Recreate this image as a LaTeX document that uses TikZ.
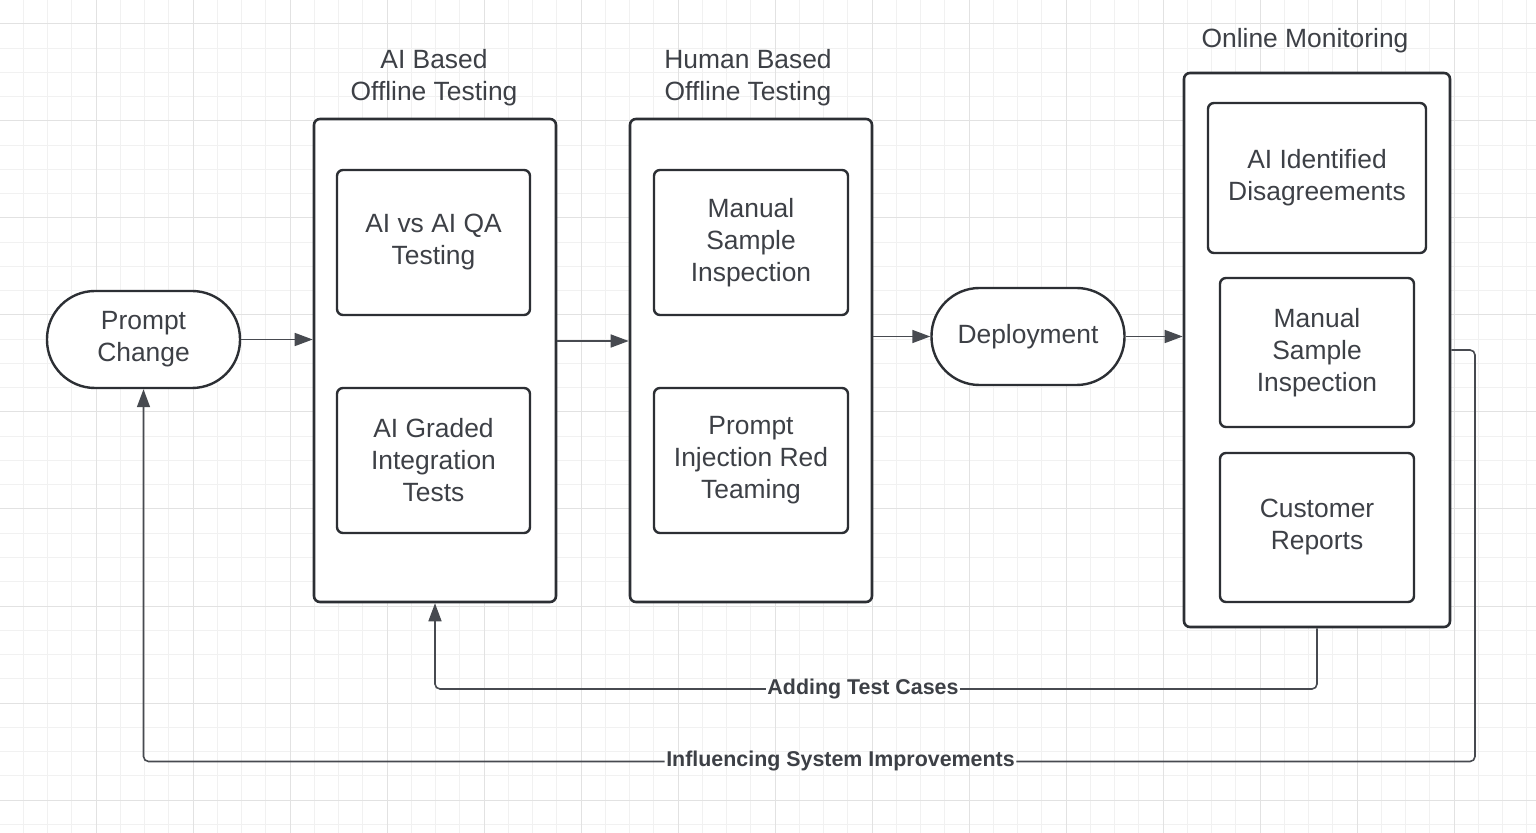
\documentclass[tikz,border=0pt]{standalone}
\usepackage{fontspec}
\setmainfont{Liberation Sans}
\usepackage{tikz}
\usetikzlibrary{arrows.meta}

\definecolor{ink}{HTML}{2C2F34}
\definecolor{txt}{HTML}{3D4046}
\definecolor{wire}{HTML}{474A50}
\definecolor{gridminor}{HTML}{F1F1F1}
\definecolor{gridmajor}{HTML}{E2E2E2}

\newcommand{\boxfont}{\fontsize{13.2}{16}\selectfont}
\newcommand{\tagfont}{\fontsize{10.7}{13}\selectfont\bfseries}

\begin{document}
\begin{tikzpicture}[x=0.5pt, y=-0.5pt,
    frame/.style={draw=ink, line width=1.3pt, rounded corners=3pt, fill=white, inner sep=0pt},
    card/.style={draw=ink, line width=1.2pt, rounded corners=3pt, fill=white, inner sep=0pt,
      align=center, text=txt, font=\boxfont},
    pill/.style={draw=ink, line width=1.2pt, rounded corners=24pt, fill=white, inner sep=0pt,
      minimum width=96.5pt, minimum height=48.5pt, align=center, text=txt, font=\boxfont},
    title/.style={align=center, text=txt, font=\boxfont},
    tag/.style={text=txt, font=\tagfont, inner sep=0.6pt},
    flow/.style={draw=wire, line width=0.8pt, -{Triangle[length=9pt, width=6.5pt]}},
    back/.style={draw=wire, line width=0.8pt, rounded corners=2.5pt}]

    % Page and background grid
    \useasboundingbox (0,0) rectangle (1536,833);
    \fill[white] (0,0) rectangle (1536,833);
    \foreach \k in {-4,...,59}
        \draw[gridminor, line width=0.5pt] ({96+24.25*\k},0) -- ({96+24.25*\k},833);
    \foreach \k in {-4,...,29}
        \draw[gridminor, line width=0.5pt] (0,{121+24.25*\k}) -- (1536,{121+24.25*\k});
    \foreach \k in {-1,...,15}
        \draw[gridmajor, line width=0.5pt] ({96+97*\k},0) -- ({96+97*\k},833);
    \foreach \k in {-1,...,7}
        \draw[gridmajor, line width=0.5pt] (0,{121+97*\k}) -- (1536,{121+97*\k});

    % Start
    \node[pill] (pc) at (143.5,339.5) {Prompt\\Change};

    % AI based offline testing
    \node[frame, minimum width=121pt, minimum height=241.5pt] (aib) at (435,360.5) {};
    \node[title] (aibt) at (434,78) {AI Based\\Offline Testing};
    \node[card, minimum width=96.5pt, minimum height=72.5pt] (aiqa) at (433.5,242.5) {AI vs AI QA\\Testing};
    \node[card, minimum width=96.5pt, minimum height=72.5pt] (aigr) at (433.5,460.5) {AI Graded\\Integration\\Tests};

    % Human based offline testing
    \node[frame, minimum width=121pt, minimum height=241.5pt] (hub) at (751,360.5) {};
    \node[title] (hubt) at (748,78) {Human Based\\Offline Testing};
    \node[card, minimum width=97pt, minimum height=72.5pt] (husi) at (751,242.5) {Manual\\Sample\\Inspection};
    \node[card, minimum width=97pt, minimum height=72.5pt] (hurt) at (751,460.5) {Prompt\\Injection Red\\Teaming};

    % Deployment
    \node[pill] (dep) at (1028,336.5) {Deployment};

    % Online monitoring
    \node[frame, minimum width=133pt, minimum height=277pt] (mon) at (1317,350) {};
    \node[title] (mont) at (1305,41) {Online Monitoring};
    \node[card, minimum width=109pt, minimum height=75pt] (moai) at (1317,178) {AI Identified\\Disagreements};
    \node[card, minimum width=97pt, minimum height=74.5pt] (mosi) at (1317,352.5) {Manual\\Sample\\Inspection};
    \node[card, minimum width=97pt, minimum height=74.5pt] (mocr) at (1317,527.5) {Customer\\Reports};

    % Forward flow
    \draw[flow] (pc.east) -- (pc.east -| aib.west);
    \draw[flow] (aib.east |- 0,341) -- (hub.west |- 0,341);
    \draw[flow] (hub.east |- dep.west) -- (dep.west);
    \draw[flow] (dep.east) -- (dep.east -| mon.west);

    % Feedback loops
    \node[tag] (add) at (863,689) {Adding Test Cases};
    \draw[back] (mon.south) |- (add.east);
    \draw[back, flow] (add.west) -| (aib.south);

    \coordinate (turn) at (1475,350);
    \node[tag] (inf) at (840.5,761.5) {Influencing System Improvements};
    \draw[back] (mon.east) -- (turn) |- (inf.east);
    \draw[back, flow] (inf.west) -| (pc.south);
\end{tikzpicture}
\end{document}
